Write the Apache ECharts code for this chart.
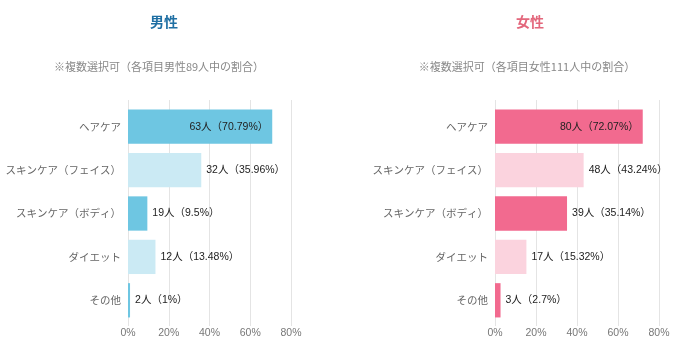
<!DOCTYPE html>
<html><head><meta charset="utf-8">
<script src="https://cdn.jsdelivr.net/npm/echarts@6/dist/echarts.min.js"></script>
<style>html,body{margin:0;padding:0;background:#fff}#c{width:676px;height:357px}</style>
</head><body><div id="c"></div>
<script>
const categories = ['ヘアケア','スキンケア（フェイス）','スキンケア（ボディ）','ダイエット','その他'];
const maleCounts = [63, 32, 19, 12, 2];
const malePct = [70.79, 35.96, 9.5, 13.48, 1];
const femaleCounts = [80, 48, 39, 17, 3];
const femalePct = [72.07, 43.24, 35.14, 15.32, 2.7];
const xTicks = [0, 20, 40, 60, 80];

const FONT = '"Liberation Sans", "Noto Sans CJK JP", sans-serif';
const JFONT = '"Noto Sans CJK JP", sans-serif';
const maleColors = ['#6ec6e2', '#cbeaf4'];
const femaleColors = ['#f26a8f', '#fbd3de'];

function barData(pct, counts, colors) {
  return pct.map((v, i) => ({
    value: v,
    itemStyle: { color: colors[i % 2] },
    label: i === 0 ? { position: 'insideRight', distance: 4 } : { position: 'right', distance: 5 },
    cnt: counts[i]
  }));
}

const panels = [
  { left: 128, right: 385 },
  { left: 495, right: 17 }
];

const option = {
  animation: false,
  title: [
    { text: '男性', left: 159, top: 10, textAlign: 'center', textStyle: { color: '#1f6fa3', fontSize: 14, fontWeight: 'bold', fontFamily: JFONT } },
    { text: '女性', left: 525, top: 10, textAlign: 'center', textStyle: { color: '#e3677c', fontSize: 14, fontWeight: 'bold', fontFamily: JFONT } },
    { text: '※複数選択可（各項目男性89人中の割合）', left: 154, top: 56, textAlign: 'center', textStyle: { color: '#888', fontSize: 11, fontWeight: 'normal', fontFamily: JFONT } },
    { text: '※複数選択可（各項目女性111人中の割合）', left: 522, top: 56, textAlign: 'center', textStyle: { color: '#888', fontSize: 11, fontWeight: 'normal', fontFamily: JFONT } }
  ],
  grid: [
    { left: panels[0].left, right: panels[0].right, top: 105, height: 217 },
    { left: panels[1].left, right: panels[1].right, top: 105, height: 217 },
    { left: panels[0].left, right: panels[0].right, top: 100, height: 226 },
    { left: panels[1].left, right: panels[1].right, top: 100, height: 226 }
  ],
  xAxis: [0, 1, 2, 3].map(g => ({
    type: 'value', gridIndex: g, min: 0, max: 80, interval: 20,
    axisLine: { show: false }, axisTick: { show: false },
    splitLine: { show: g >= 2, lineStyle: { color: '#e4e4e4', width: 1 } },
    axisLabel: g < 2 ? { show: true, formatter: '{value}%', color: '#777', fontSize: 10.5, fontFamily: FONT, margin: 6 } : { show: false }
  })),
  yAxis: [0, 1, 2, 3].map(g => g < 2 ? ({
    type: 'category', gridIndex: g, data: categories, inverse: true,
    axisLine: { show: false }, axisTick: { show: false },
    axisLabel: { color: '#666', fontSize: 10.5, fontFamily: JFONT, margin: 7 }
  }) : ({ type: 'value', gridIndex: g, show: false, splitLine: { show: false } })),
  series: [
    { type: 'bar', xAxisIndex: 0, yAxisIndex: 0, barCategoryGap: '21%', z: 3,
      data: barData(malePct, maleCounts, maleColors),
      label: { show: true, color: '#222', fontSize: 10.5, fontFamily: FONT,
        formatter: p => p.data.cnt + '人（' + p.value + '%）' } },
    { type: 'bar', xAxisIndex: 1, yAxisIndex: 1, barCategoryGap: '21%', z: 3,
      data: barData(femalePct, femaleCounts, femaleColors),
      label: { show: true, color: '#222', fontSize: 10.5, fontFamily: FONT,
        formatter: p => p.data.cnt + '人（' + p.value + '%）' } }
  ]
};
const chart = echarts.init(document.getElementById('c'), null, { renderer: 'canvas' });
chart.setOption(option);
</script></body></html>
